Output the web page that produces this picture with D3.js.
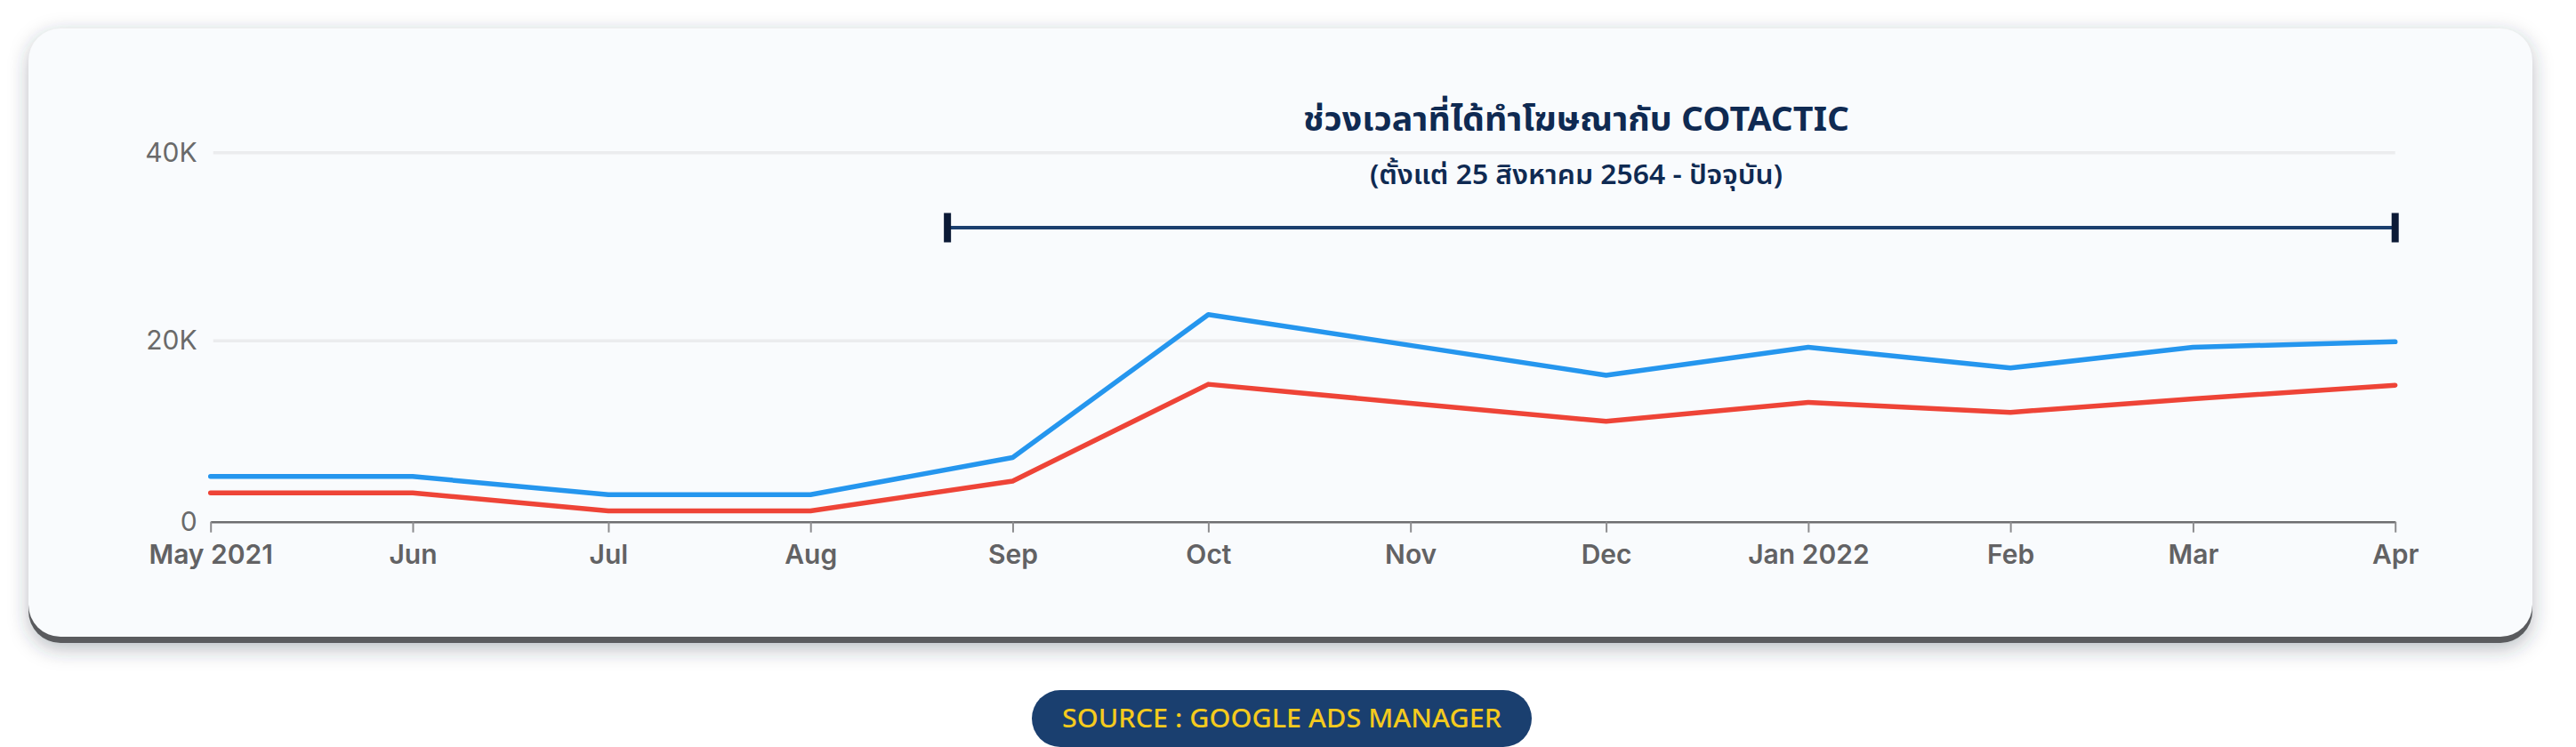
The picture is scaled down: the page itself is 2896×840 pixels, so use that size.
<!DOCTYPE html>
<html>
<head>
<meta charset="utf-8">
<script src="https://cdn.jsdelivr.net/npm/d3@7"></script>
<style>
  body { margin: 0; background: #ffffff; }
  svg { display: block; }
</style>
</head>
<body>
<script>
// months shown on the chart (first day of each month)
var months = ["2021-05-01", "2021-06-01", "2021-07-01", "2021-08-01", "2021-09-01", "2021-10-01",
              "2021-11-01", "2021-12-01", "2022-01-01", "2022-02-01", "2022-03-01", "2022-04-01"];
var monthLabels = ["May 2021", "Jun", "Jul", "Aug", "Sep", "Oct", "Nov", "Dec", "Jan 2022", "Feb", "Mar", "Apr"];

// values
var blueSeries = [5000, 5000, 3000, 3000, 7100, 22800, 19500, 16200, 19300, 17000, 19300, 19900];
var redSeries  = [3200, 3200, 1200, 1200, 4500, 15200, 13100, 11100, 13200, 12100, 13600, 15100];

var yTicks = [0, 20000, 40000];
var yLabels = ["0", "20K", "40K"];

// campaign period bracket
var periodStart = "2021-08-22";
var periodEnd = "2022-04-01";
var titleText = "ช่วงเวลาที่ได้ทำโฆษณากับ COTACTIC";
var subtitleText = "(ตั้งแต่ 25 สิงหาคม 2564 - ปัจจุบัน)";
var sourceText = "SOURCE : GOOGLE ADS MANAGER";

var W = 2896, H = 840;
var parse = d3.timeParse("%Y-%m-%d");
var dates = months.map(parse);

var thaiFont = "'Noto Sans Thai', 'Noto Sans Thai Looped', 'Noto Sans', sans-serif";

var svg = d3.select("body").append("svg")
  .attr("width", W)
  .attr("height", H);

var defs = svg.append("defs");
var blur = defs.append("filter").attr("id", "soft")
  .attr("x", "-5%").attr("y", "-20%").attr("width", "110%").attr("height", "140%");
blur.append("feGaussianBlur").attr("stdDeviation", 11);

// card: soft shadow, dark bottom edge, then the card itself
var card = {x: 32, y: 32, w: 2815, h: 684, r: 36};
svg.append("rect")
  .attr("x", card.x).attr("y", card.y + 6)
  .attr("width", card.w).attr("height", card.h + 8)
  .attr("rx", card.r)
  .attr("fill", "rgba(40,50,70,0.32)")
  .attr("filter", "url(#soft)");
svg.append("rect")
  .attr("x", card.x).attr("y", card.y + 7)
  .attr("width", card.w).attr("height", card.h)
  .attr("rx", card.r)
  .attr("fill", "#5a5b5e");
svg.append("rect")
  .attr("x", card.x).attr("y", card.y)
  .attr("width", card.w).attr("height", card.h)
  .attr("rx", card.r)
  .attr("fill", "#f9fbfd");

// scales
var x = d3.scaleTime()
  .domain([dates[0], dates[dates.length - 1]])
  .range([236.7, 2692.7]);

var y = d3.scaleLinear()
  .domain(yTicks)
  .range([586.7, 383.3, 171.7]);

// grid lines (20K, 40K)
svg.append("g")
  .selectAll("line")
  .data(yTicks.slice(1))
  .enter().append("line")
  .attr("x1", x.range()[0] + 3)
  .attr("x2", x.range()[1])
  .attr("y1", function(d) { return y(d); })
  .attr("y2", function(d) { return y(d); })
  .attr("stroke", "#ebecee")
  .attr("stroke-width", 3.5);

// y axis labels
var yAxis = svg.append("g")
  .attr("transform", "translate(" + x.range()[0] + ",0)")
  .call(d3.axisLeft(y).tickValues(yTicks)
    .tickFormat(function(d, i) { return yLabels[i]; })
    .tickSize(0).tickPadding(15));
yAxis.select(".domain").remove();
yAxis.selectAll("text")
  .attr("font-family", "Inter, 'Noto Sans', sans-serif")
  .attr("font-size", 30)
  .attr("font-weight", 400)
  .attr("fill", "#6a6a6a");

// x axis
var xAxis = svg.append("g")
  .attr("transform", "translate(0," + y(0) + ")")
  .call(d3.axisBottom(x).tickValues(dates)
    .tickFormat(function(d, i) { return monthLabels[i]; })
    .tickSize(12).tickSizeOuter(0).tickPadding(14));
xAxis.select(".domain")
  .attr("stroke", "#6e6e70")
  .attr("stroke-width", 2.5);
xAxis.selectAll(".tick line")
  .attr("stroke", "#8c8c8e")
  .attr("stroke-width", 2);
xAxis.selectAll("text")
  .attr("font-family", "Inter, 'Noto Sans', sans-serif")
  .attr("font-size", 30)
  .attr("font-weight", 600)
  .attr("fill", "#626264");

// lines
var line = d3.line()
  .x(function(d, i) { return x(dates[i]); })
  .y(function(d) { return y(d); });

svg.append("path")
  .datum(redSeries)
  .attr("d", line)
  .attr("fill", "none")
  .attr("stroke", "#ee4437")
  .attr("stroke-width", 5.5)
  .attr("stroke-linejoin", "round")
  .attr("stroke-linecap", "round");

svg.append("path")
  .datum(blueSeries)
  .attr("d", line)
  .attr("fill", "none")
  .attr("stroke", "#2596ee")
  .attr("stroke-width", 5.5)
  .attr("stroke-linejoin", "round")
  .attr("stroke-linecap", "round");

// bracket for the campaign period
var bx1 = x(parse(periodStart)), bx2 = x(parse(periodEnd)), by = 256;
svg.append("line")
  .attr("x1", bx1).attr("x2", bx2)
  .attr("y1", by).attr("y2", by)
  .attr("stroke", "#1b3f6e")
  .attr("stroke-width", 4);
svg.append("g")
  .selectAll("rect")
  .data([bx1, bx2])
  .enter().append("rect")
  .attr("x", function(d) { return d - 4; })
  .attr("y", by - 16.5)
  .attr("width", 8)
  .attr("height", 33)
  .attr("fill", "#0c1a36");

// title + subtitle
svg.append("text")
  .attr("x", 1772).attr("y", 147)
  .attr("text-anchor", "middle")
  .attr("font-family", thaiFont)
  .attr("font-size", 38)
  .attr("font-weight", 700)
  .attr("fill", "#0f2a52")
  .attr("textLength", 614)
  .attr("lengthAdjust", "spacingAndGlyphs")
  .text(titleText);

svg.append("text")
  .attr("x", 1772).attr("y", 207)
  .attr("text-anchor", "middle")
  .attr("font-family", thaiFont)
  .attr("font-size", 30)
  .attr("font-weight", 600)
  .attr("fill", "#0f2a52")
  .attr("textLength", 464)
  .attr("lengthAdjust", "spacingAndGlyphs")
  .text(subtitleText);

// source pill
svg.append("rect")
  .attr("x", 1160).attr("y", 776)
  .attr("width", 562).attr("height", 64)
  .attr("rx", 32)
  .attr("fill", "#1a3f6f");
svg.append("text")
  .attr("x", 1441).attr("y", 818)
  .attr("text-anchor", "middle")
  .attr("font-family", "'Noto Sans', sans-serif")
  .attr("font-size", 28)
  .attr("font-weight", 500)
  .attr("fill", "#f4ca1e")
  .attr("textLength", 494)
  .attr("lengthAdjust", "spacingAndGlyphs")
  .text(sourceText);
</script>
</body>
</html>
